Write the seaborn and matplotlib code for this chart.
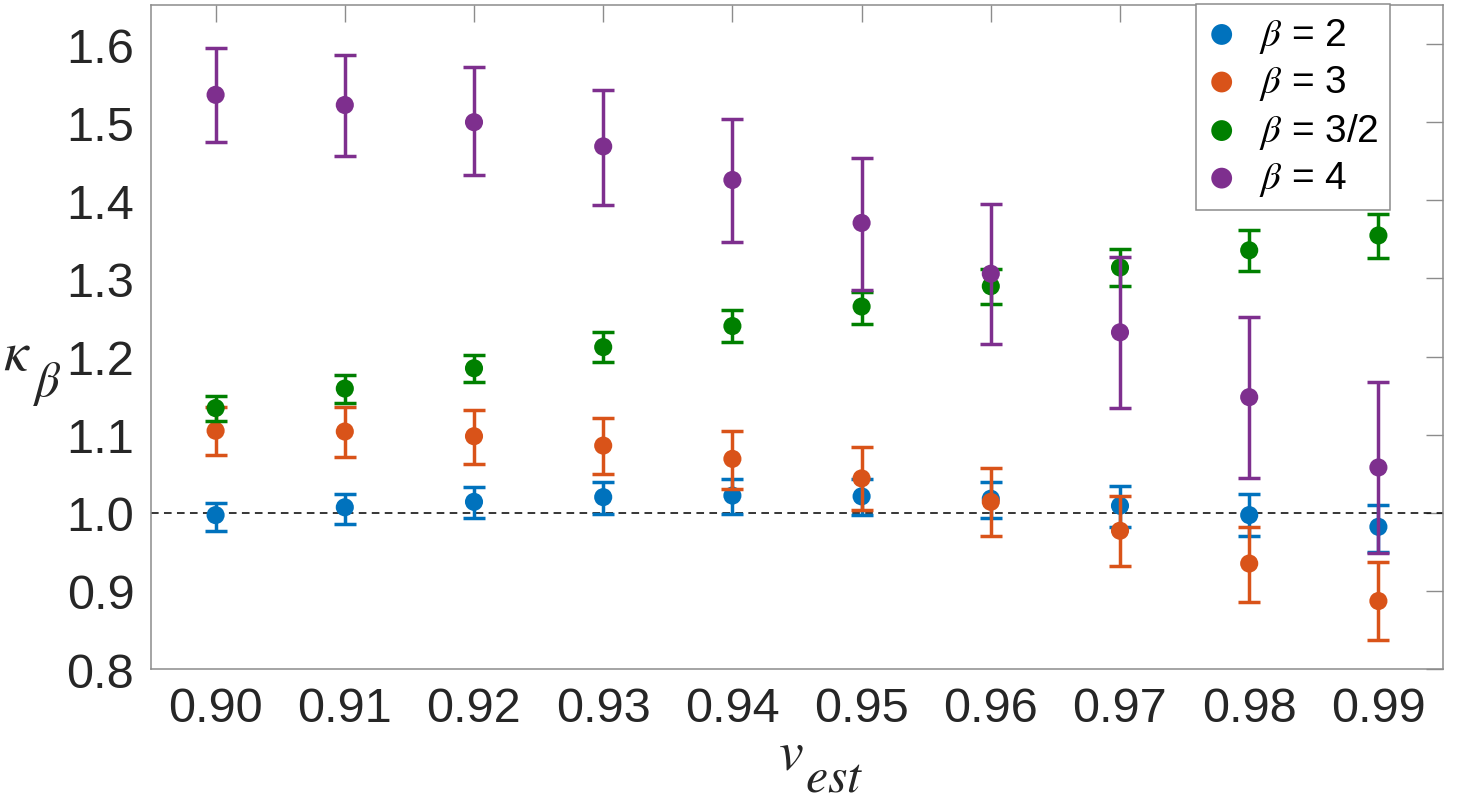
import numpy as np
import pandas as pd
import seaborn as sns
import matplotlib
matplotlib.use('Agg')
import matplotlib.pyplot as plt

# data
v_est = [0.90, 0.91, 0.92, 0.93, 0.94, 0.95, 0.96, 0.97, 0.98, 0.99]
labels = [r'$\beta$ = 2', r'$\beta$ = 3', r'$\beta$ = 3/2', r'$\beta$ = 4']

k_b2 = [0.997, 1.007, 1.014, 1.020, 1.022, 1.021, 1.018, 1.009, 0.997, 0.982]
hi_b2 = [1.013, 1.024, 1.033, 1.039, 1.043, 1.043, 1.040, 1.034, 1.024, 1.010]
lo_b2 = [0.977, 0.986, 0.993, 0.998, 0.999, 0.997, 0.993, 0.982, 0.970, 0.950]

k_b3 = [1.105, 1.104, 1.098, 1.086, 1.069, 1.044, 1.014, 0.977, 0.935, 0.887]
hi_b3 = [1.135, 1.135, 1.131, 1.121, 1.105, 1.084, 1.057, 1.022, 0.982, 0.937]
lo_b3 = [1.074, 1.071, 1.063, 1.049, 1.030, 1.004, 0.970, 0.932, 0.886, 0.837]

k_b32 = [1.134, 1.159, 1.185, 1.212, 1.239, 1.264, 1.290, 1.314, 1.336, 1.355]
hi_b32 = [1.149, 1.176, 1.202, 1.231, 1.259, 1.283, 1.312, 1.338, 1.362, 1.383]
lo_b32 = [1.117, 1.141, 1.167, 1.193, 1.218, 1.242, 1.267, 1.290, 1.309, 1.326]

k_b4 = [1.535, 1.522, 1.500, 1.469, 1.426, 1.371, 1.306, 1.231, 1.148, 1.058]
hi_b4 = [1.595, 1.586, 1.570, 1.541, 1.504, 1.454, 1.395, 1.327, 1.250, 1.168]
lo_b4 = [1.474, 1.457, 1.432, 1.394, 1.347, 1.285, 1.216, 1.134, 1.044, 0.949]

colors = ['#0072BD', '#D95319', '#008000', '#7E2F8E']

sns.set_style('white')
plt.rcParams['font.family'] = ['Liberation Sans', 'DejaVu Sans']
plt.rcParams['mathtext.fontset'] = 'stix'

fig = plt.figure(figsize=(14.62, 8.04), dpi=100)
ax = fig.add_axes([151/1462, 1-670/804, (1443-151)/1462, (670-6)/804])

series = [(k_b2, lo_b2, hi_b2), (k_b3, lo_b3, hi_b3), (k_b32, lo_b32, hi_b32), (k_b4, lo_b4, hi_b4)]
ax.axhline(1.0, color='black', ls=(0, (5, 3.5)), lw=1.1, zorder=1)
for i, (k, lo, hi) in enumerate(series):
    df = pd.DataFrame({'v': v_est, 'kappa': k, 'lo': lo, 'hi': hi})
    ax.errorbar(df['v'], df['kappa'], yerr=[df['kappa']-df['lo'], df['hi']-df['kappa']],
                fmt='none', ecolor=colors[i], elinewidth=2.5, capsize=8, capthick=2.5, zorder=2+2*i)
    sns.scatterplot(data=df, x='v', y='kappa', color=colors[i], s=170, edgecolor='none',
                    label=labels[i], ax=ax, zorder=3+2*i)

ax.set_xlim(0.895, 0.995)
ax.set_ylim(0.8, 1.65)
ax.set_xticks(v_est)
ax.set_xticklabels(['%.2f' % v for v in v_est])
ax.set_yticks(np.arange(0.8, 1.61, 0.1))
ax.set_yticklabels(['%.1f' % t for t in np.arange(0.8, 1.61, 0.1)])
ax.tick_params(direction='in', top=True, right=True, length=12, width=1, color='#8c8c8c',
               labelsize=35, labelcolor='#262626', pad=12)
for s in ax.spines.values():
    s.set_visible(True)
    s.set_color('#8c8c8c')
    s.set_linewidth(1.1)
ax.set_xlabel('')
ax.set_ylabel('')

# axis labels with big MATLAB-style subscripts
fig.text(3/1462, 1-370/804, r'$\kappa$', fontsize=40, color='#262626')
fig.text(33/1462, 1-396/804, r'$\beta$', fontsize=35, color='#262626')
fig.text(778/1462, 1-770/804, r'$v$', fontsize=40, color='#262626')
fig.text(805/1462, 1-792/804, r'$est$', fontsize=36, color='#262626')

leg = ax.legend(loc='upper right', bbox_to_anchor=((1390-151)/1292, (670-5)/664),
                fontsize=28, frameon=True, fancybox=False, framealpha=1, edgecolor='#8c8c8c',
                borderaxespad=0, handlelength=0.7, handletextpad=0.6, labelspacing=0.22,
                borderpad=0.3, markerscale=1.15)
leg.get_frame().set_linewidth(1.1)
for t in leg.get_texts():
    t.set_color('black')

plt.savefig('out.png', dpi=100)
